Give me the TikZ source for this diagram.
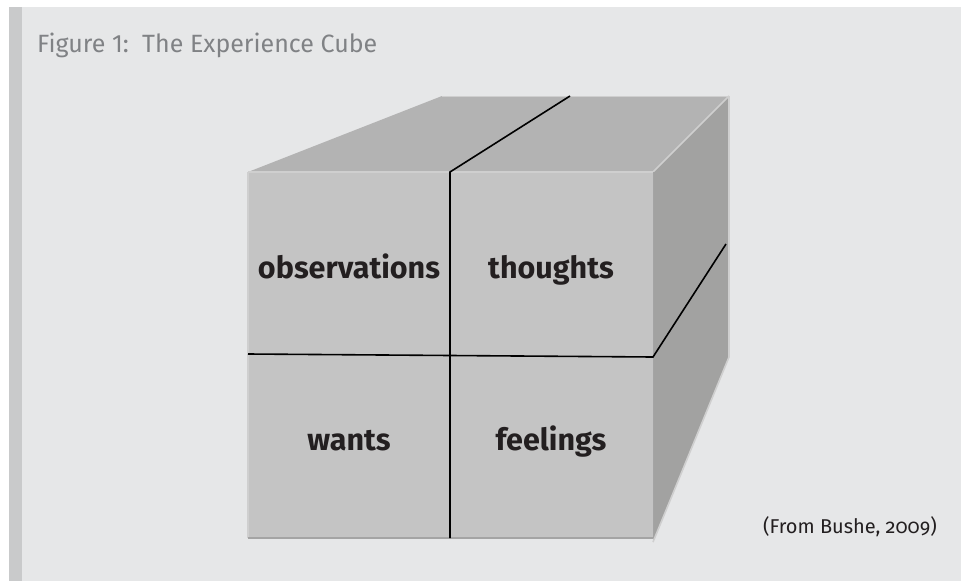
\documentclass[tikz,border=0pt]{standalone}
\usepackage{fontspec}
\setmainfont{Fira Sans}
\newfontfamily\creditfont[Numbers=OldStyle]{Fira Sans}
\definecolor{pagebg}{HTML}{E6E7E8}
\definecolor{sidebar}{HTML}{C9CACB}
\definecolor{titlegray}{HTML}{808285}
\definecolor{inkdark}{HTML}{231F20}
\definecolor{frontface}{HTML}{C4C4C4}
\definecolor{topface}{HTML}{B3B3B3}
\definecolor{sideface}{HTML}{A2A2A1}
\definecolor{edgelight}{HTML}{CFCFCF}
\definecolor{edgedark}{HTML}{A4A4A4}
\begin{document}
\begin{tikzpicture}[x=1pt,y=-1pt,
  facelabel/.style={font=\fontsize{30.5}{36}\selectfont\bfseries, text=inkdark, inner sep=0pt, anchor=base},
  divider/.style={draw=black, line width=1.6pt},
  lightedge/.style={draw=edgelight, line width=1.6pt},
  darkedge/.style={draw=edgedark, line width=2pt}]
\useasboundingbox (0,0) rectangle (961,581);
% page background and side bar
\fill[white] (0,0) rectangle (961,581);
\fill[pagebg] (9,7) rectangle (961,581);
\fill[sidebar] (9,7) rectangle (22,581);

% title
\node[anchor=base west, inner sep=0pt, text=titlegray,
      font=\fontsize{25}{30}\selectfont] (title) at (37,52) {Figure 1:\ \ The Experience Cube};

% cube corners
\coordinate (ftl) at (248,172);
\coordinate (ftr) at (653,172);
\coordinate (fbl) at (248,538);
\coordinate (fbr) at (653,538);
\coordinate (btl) at (442,96);
\coordinate (btr) at (729,96);
\coordinate (rbr) at (729,357);
\coordinate (rbf) at (653,542);

% faces
\fill[topface] (ftl) -- (btl) -- (btr) -- (ftr) -- cycle;
\fill[sideface] (ftr) -- (btr) -- (rbr) -- (rbf) -- cycle;
\fill[frontface] (ftl) rectangle (fbr);

% bevel edges
\draw[lightedge] (ftl) -- (ftr);
\draw[lightedge] (ftl) -- (fbl);
\draw[lightedge] (ftr) -- (btr);
\draw[draw=edgelight, line width=1pt] (btl) -- (btr);
\draw[lightedge] (btr) -- (rbr) -- (rbf);
\draw[darkedge] (fbl) -- (fbr);
\draw[draw=edgedark, line width=1pt] (ftr) -- (fbr);

% dividing lines
\coordinate (tm) at (450,172);
\coordinate (bm) at (450,538);
\coordinate (lm) at (248,354);
\coordinate (rm) at (653,357);
\coordinate (tb) at (570,96);
\coordinate (sb) at (726,244);
\draw[divider] (bm) -- (tm) -- (tb);
\draw[divider] (lm) -- (rm) -- (sb);

% face labels
\node[facelabel] (obs) at (349,278) {observations};
\node[facelabel] (tho) at (551,278) {thoughts};
\node[facelabel] (wan) at (349,450) {wants};
\node[facelabel] (fee) at (551,450) {feelings};

% source
\node[anchor=base west, inner sep=0pt, text=inkdark,
      font=\creditfont\fontsize{20}{24}\selectfont] (src) at (763,533) {(From Bushe, 2009)};
\end{tikzpicture}
\end{document}
